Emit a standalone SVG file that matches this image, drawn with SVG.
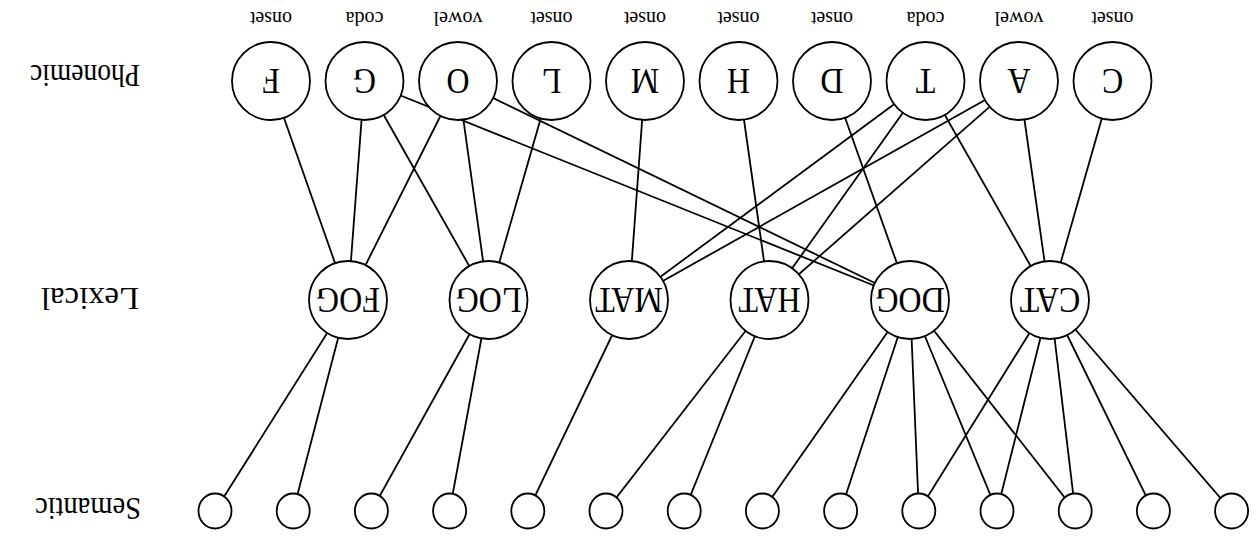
<svg xmlns="http://www.w3.org/2000/svg" width="1257" height="540" viewBox="0 0 1257 540">
<style>
.n{fill:#fff;stroke:#000;stroke-width:1.8}
.e line{stroke:#000;stroke-width:1.8}
.t{font-family:"Liberation Serif","Times New Roman",serif;fill:#000}
.big{font-size:32px;text-anchor:middle}
.lab{font-size:20px;text-anchor:middle}
.row{font-size:32px;text-anchor:start}
</style>
<rect width="1257" height="540" fill="#fff"/>
<g id="rowlabels" class="t">
<text class="row" x="0" y="0" textLength="110" lengthAdjust="spacingAndGlyphs" transform="translate(140 65) rotate(180)">Phonemic</text>
<text class="row" x="0" y="0" textLength="98" lengthAdjust="spacingAndGlyphs" transform="translate(139 288) rotate(180)">Lexical</text>
<text class="row" x="0" y="0" textLength="106" lengthAdjust="spacingAndGlyphs" transform="translate(141 498) rotate(180)">Semantic</text>
</g>
<g id="connectors" class="e">
<line x1="271" y1="81" x2="348" y2="300"/>
<line x1="458" y1="81" x2="348" y2="300"/>
<line x1="364.5" y1="81" x2="348" y2="300"/>
<line x1="551.5" y1="81" x2="488.5" y2="300"/>
<line x1="458" y1="81" x2="488.5" y2="300"/>
<line x1="364.5" y1="81" x2="488.5" y2="300"/>
<line x1="645" y1="81" x2="629" y2="300"/>
<line x1="1019" y1="81" x2="629" y2="300"/>
<line x1="925.5" y1="81" x2="629" y2="300"/>
<line x1="738.5" y1="81" x2="769.5" y2="300"/>
<line x1="1019" y1="81" x2="769.5" y2="300"/>
<line x1="925.5" y1="81" x2="769.5" y2="300"/>
<line x1="832" y1="81" x2="910" y2="300"/>
<line x1="458" y1="81" x2="910" y2="300"/>
<line x1="364.5" y1="81" x2="910" y2="300"/>
<line x1="1112.5" y1="81" x2="1050" y2="300"/>
<line x1="1019" y1="81" x2="1050" y2="300"/>
<line x1="925.5" y1="81" x2="1050" y2="300"/>
<line x1="348" y1="300" x2="215" y2="511"/>
<line x1="348" y1="300" x2="293.2" y2="511"/>
<line x1="488.5" y1="300" x2="371.4" y2="511"/>
<line x1="488.5" y1="300" x2="449.6" y2="511"/>
<line x1="629" y1="300" x2="527.8" y2="511"/>
<line x1="769.5" y1="300" x2="606" y2="511"/>
<line x1="769.5" y1="300" x2="684.2" y2="511"/>
<line x1="910" y1="300" x2="762.4" y2="511"/>
<line x1="910" y1="300" x2="840.6" y2="511"/>
<line x1="910" y1="300" x2="918.8" y2="511"/>
<line x1="910" y1="300" x2="997" y2="511"/>
<line x1="910" y1="300" x2="1075.2" y2="511"/>
<line x1="1050" y1="300" x2="918.8" y2="511"/>
<line x1="1050" y1="300" x2="997" y2="511"/>
<line x1="1050" y1="300" x2="1075.2" y2="511"/>
<line x1="1050" y1="300" x2="1153.4" y2="511"/>
<line x1="1050" y1="300" x2="1231.6" y2="511"/>
</g>
<g id="ph-F"><circle class="n" cx="271" cy="81" r="39"/><text class="t big" x="0" y="11" transform="translate(271 81) rotate(180) scale(1 1.12)">F</text><text class="t lab" x="0" y="0" transform="translate(271 12) rotate(180)">onset</text></g>
<g id="ph-G"><circle class="n" cx="364.5" cy="81" r="39"/><text class="t big" x="0" y="11" transform="translate(364.5 81) rotate(180) scale(1 1.12)">G</text><text class="t lab" x="0" y="0" transform="translate(364.5 12) rotate(180)">coda</text></g>
<g id="ph-O"><circle class="n" cx="458" cy="81" r="39"/><text class="t big" x="0" y="11" transform="translate(458 81) rotate(180) scale(1 1.12)">O</text><text class="t lab" x="0" y="0" transform="translate(458 12) rotate(180)">vowel</text></g>
<g id="ph-L"><circle class="n" cx="551.5" cy="81" r="39"/><text class="t big" x="0" y="11" transform="translate(551.5 81) rotate(180) scale(1 1.12)">L</text><text class="t lab" x="0" y="0" transform="translate(551.5 12) rotate(180)">onset</text></g>
<g id="ph-M"><circle class="n" cx="645" cy="81" r="39"/><text class="t big" x="0" y="11" transform="translate(645 81) rotate(180) scale(1 1.12)">M</text><text class="t lab" x="0" y="0" transform="translate(645 12) rotate(180)">onset</text></g>
<g id="ph-H"><circle class="n" cx="738.5" cy="81" r="39"/><text class="t big" x="0" y="11" transform="translate(738.5 81) rotate(180) scale(1 1.12)">H</text><text class="t lab" x="0" y="0" transform="translate(738.5 12) rotate(180)">onset</text></g>
<g id="ph-D"><circle class="n" cx="832" cy="81" r="39"/><text class="t big" x="0" y="11" transform="translate(832 81) rotate(180) scale(1 1.12)">D</text><text class="t lab" x="0" y="0" transform="translate(832 12) rotate(180)">onset</text></g>
<g id="ph-T"><circle class="n" cx="925.5" cy="81" r="39"/><text class="t big" x="0" y="11" transform="translate(925.5 81) rotate(180) scale(1 1.12)">T</text><text class="t lab" x="0" y="0" transform="translate(925.5 12) rotate(180)">coda</text></g>
<g id="ph-A"><circle class="n" cx="1019" cy="81" r="39"/><text class="t big" x="0" y="11" transform="translate(1019 81) rotate(180) scale(1 1.12)">A</text><text class="t lab" x="0" y="0" transform="translate(1019 12) rotate(180)">vowel</text></g>
<g id="ph-C"><circle class="n" cx="1112.5" cy="81" r="39"/><text class="t big" x="0" y="11" transform="translate(1112.5 81) rotate(180) scale(1 1.12)">C</text><text class="t lab" x="0" y="0" transform="translate(1112.5 12) rotate(180)">onset</text></g>
<g id="lx-FOG"><circle class="n" cx="348" cy="300" r="39"/><text class="t big" x="0" y="11" transform="translate(348 300) rotate(180) scale(1 1.12)">FOG</text></g>
<g id="lx-LOG"><circle class="n" cx="488.5" cy="300" r="39"/><text class="t big" x="0" y="11" transform="translate(488.5 300) rotate(180) scale(1 1.12)">LOG</text></g>
<g id="lx-MAT"><circle class="n" cx="629" cy="300" r="39"/><text class="t big" x="0" y="11" transform="translate(629 300) rotate(180) scale(1 1.12)">MAT</text></g>
<g id="lx-HAT"><circle class="n" cx="769.5" cy="300" r="39"/><text class="t big" x="0" y="11" transform="translate(769.5 300) rotate(180) scale(1 1.12)">HAT</text></g>
<g id="lx-DOG"><circle class="n" cx="910" cy="300" r="39"/><text class="t big" x="0" y="11" transform="translate(910 300) rotate(180) scale(1 1.12)">DOG</text></g>
<g id="lx-CAT"><circle class="n" cx="1050" cy="300" r="39"/><text class="t big" x="0" y="11" transform="translate(1050 300) rotate(180) scale(1 1.12)">CAT</text></g>
<g id="sem-0"><ellipse class="n" cx="215" cy="511" rx="16.5" ry="17.5"/></g>
<g id="sem-1"><ellipse class="n" cx="293.2" cy="511" rx="16.5" ry="17.5"/></g>
<g id="sem-2"><ellipse class="n" cx="371.4" cy="511" rx="16.5" ry="17.5"/></g>
<g id="sem-3"><ellipse class="n" cx="449.6" cy="511" rx="16.5" ry="17.5"/></g>
<g id="sem-4"><ellipse class="n" cx="527.8" cy="511" rx="16.5" ry="17.5"/></g>
<g id="sem-5"><ellipse class="n" cx="606" cy="511" rx="16.5" ry="17.5"/></g>
<g id="sem-6"><ellipse class="n" cx="684.2" cy="511" rx="16.5" ry="17.5"/></g>
<g id="sem-7"><ellipse class="n" cx="762.4" cy="511" rx="16.5" ry="17.5"/></g>
<g id="sem-8"><ellipse class="n" cx="840.6" cy="511" rx="16.5" ry="17.5"/></g>
<g id="sem-9"><ellipse class="n" cx="918.8" cy="511" rx="16.5" ry="17.5"/></g>
<g id="sem-10"><ellipse class="n" cx="997" cy="511" rx="16.5" ry="17.5"/></g>
<g id="sem-11"><ellipse class="n" cx="1075.2" cy="511" rx="16.5" ry="17.5"/></g>
<g id="sem-12"><ellipse class="n" cx="1153.4" cy="511" rx="16.5" ry="17.5"/></g>
<g id="sem-13"><ellipse class="n" cx="1231.6" cy="511" rx="16.5" ry="17.5"/></g>
</svg>
